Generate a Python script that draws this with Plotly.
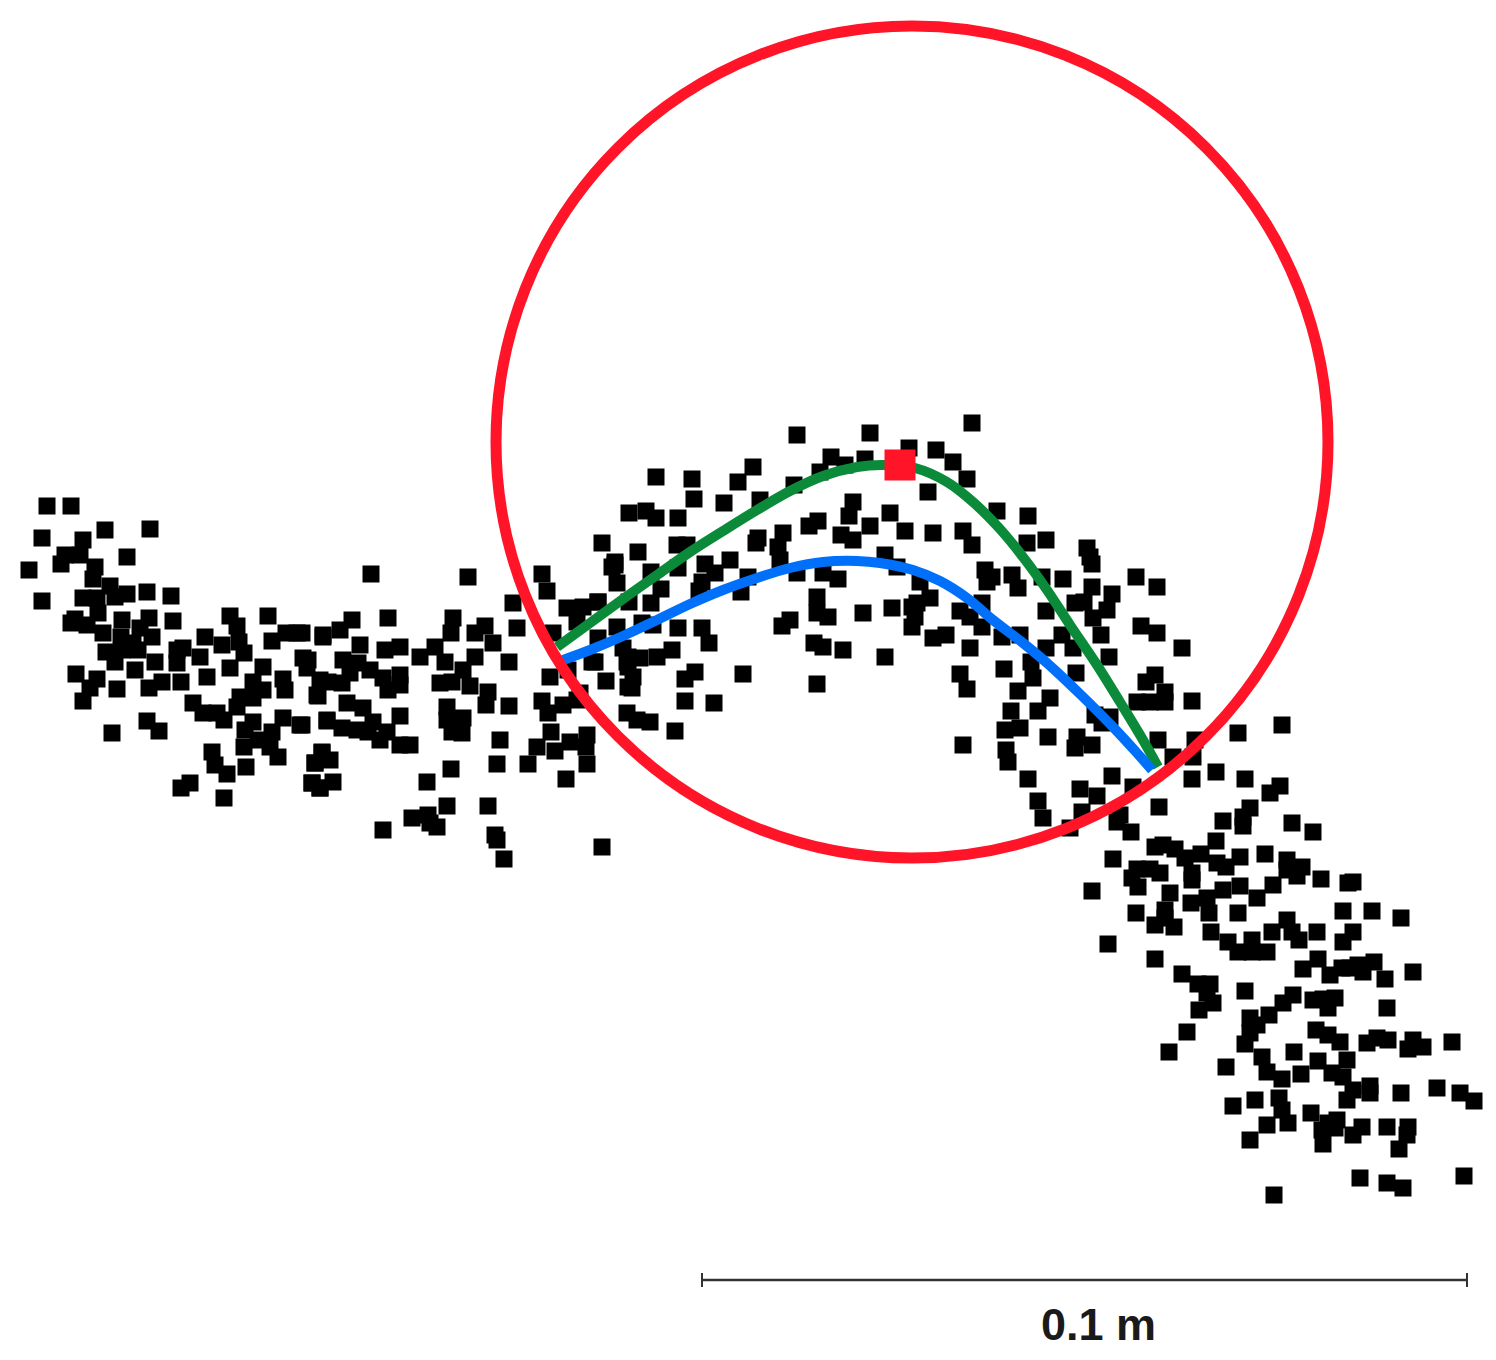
import plotly.graph_objects as go

# scatter points in image pixels (y grows downwards)
left_x = [47,71,42,105,150,83,65,80,61,29,127,95,93,110,42,83,97,115,127,147,171,98,75,71,87,103,122,149,173,140,152,121,133,106,122,138,115,135,155,76,97,90,83,117,149,162,181,177,183,177,200,207,205,222,230,237,239,244,230,263,268,272,286,297,323,303,307,320,317,283,285,253,263,240,253,237,193,203,217,224,283,300,327,147,159,112,253,245,244,258,272,270,278,212,215,227,246,190,181,224,322,315,312,320]
left_y = [506,506,538,530,529,540,555,555,564,570,557,567,579,586,601,598,598,597,594,592,596,613,619,623,625,633,620,618,621,628,637,637,643,652,650,650,662,670,662,674,679,688,701,689,688,682,682,650,648,663,657,677,637,645,616,626,642,653,668,667,616,641,633,633,637,658,668,680,695,679,690,682,690,697,698,707,703,713,713,720,718,725,721,721,731,733,722,730,747,740,732,747,757,752,765,774,767,783,788,798,753,763,783,788]

middle_x = [371,468,388,352,340,323,302,453,451,485,475,493,517,513,542,547,615,617,360,343,358,308,385,400,420,435,445,475,463,509,383,400,388,400,370,350,328,318,342,440,452,470,488,486,509,347,363,400,327,342,357,373,368,387,380,400,410,447,463,447,452,462,302,500,497,451,427,322,315,330,312,333,320,447,488,412,428,437,430,383,495,497,504,602,542,550,568,563,577,548,551,537,528,555,570,587,586,587,566,553,567,583,598,577,617,598,592,606,628,628,628,627,580]
middle_y = [574,577,618,620,630,635,633,618,633,626,633,643,628,603,574,591,565,583,645,660,663,660,650,647,657,647,662,657,670,662,678,675,690,685,670,673,682,696,683,683,682,686,692,705,706,703,708,716,720,728,730,722,732,732,740,745,745,707,718,720,732,733,725,740,764,769,782,752,763,760,783,782,788,806,806,818,815,827,823,830,835,840,859,847,701,677,670,705,700,713,732,747,764,751,742,735,747,764,779,633,608,607,602,622,627,638,662,681,657,667,687,713,693]

arch_left_x = [797,870,909,831,845,865,820,753,738,656,692,794,694,724,760,629,646,656,678,853,849,890,905,870,818,809,841,853,783,758,756,778,780,602,638,677,687,615,612,651,678,705,730,715,702,699,748,797,838,823,885,897,920,661,598,629,651,741,817,817,828,790,782,863,892,912,912,642,653,678,702,709,623,627,640,657,672,595,633,632,685,695,743,814,823,843,885,817,685,714,637,650,675]
arch_left_y = [435,433,448,457,465,459,472,467,482,477,479,485,499,503,500,513,511,518,518,502,516,513,531,526,521,526,535,540,533,538,543,547,560,543,552,545,545,562,567,572,568,564,560,573,582,591,577,573,579,573,555,567,582,589,602,602,603,592,597,613,617,620,626,613,608,607,627,623,625,628,628,643,648,662,658,657,650,662,677,688,679,672,674,643,647,650,657,684,701,703,720,722,731]

arch_right_x = [972,936,953,967,928,933,963,972,997,1028,1027,1046,1087,1090,1092,1136,1157,985,992,987,1012,1018,1042,1063,1092,1112,1075,1084,1107,1046,1093,1141,1157,1182,1101,1062,1109,1073,1046,1020,1002,982,960,982,970,930,917,915,933,946,970,960,967,1004,1031,1033,1018,1050,1038,1011,1005,1020,1048,963,1006,1008,1077,1075,1092,1076,1146,1155,1165,1137,1150,1165,1192,1095,1110,1102,1028,1038,1043,1070,1082,1120]
arch_right_y = [423,450,462,479,492,533,531,545,511,516,543,540,548,557,564,577,587,570,577,582,575,588,577,579,587,594,603,602,610,611,618,626,633,648,635,635,657,648,648,635,637,603,611,627,617,598,603,617,638,635,648,674,689,669,662,678,691,698,711,711,730,728,737,745,750,762,737,748,745,673,682,675,692,702,702,702,701,715,717,723,779,801,818,828,812,815]

lower_x = [1282,1238,1195,1158,1173,1193,1216,1192,1245,1112,1133,1080,1097,1280,1270,1159,1250,1117,1223,1243,1243,1292,1313,1131,1216,1155,1163,1175,1185,1201,1113,1240,1265,1217,1226,1287,1302,1287,1137,1150,1160,1132,1138,1192,1192,1297,1321,1353,1348,1273,1240,1223,1092,1170,1191,1207,1257,1165,1136,1209,1238,1343,1372,1401,1155,1174,1165,1287,1272,1211,1317,1292,1299,1353,1343,1228,1252,1238,1252,1267,1108,1155,1318]
lower_y = [725,733,740,740,757,757,772,779,779,776,787,789,796,786,793,807,808,822,821,817,826,823,832,832,841,847,845,849,858,854,859,857,854,863,867,860,867,870,869,869,873,878,887,873,880,876,879,882,883,885,886,890,891,893,903,898,898,910,913,913,913,911,911,918,925,927,918,920,932,932,932,932,940,932,942,942,940,952,952,952,944,959,959]

tail_x = [1303,1330,1342,1358,1374,1385,1363,1413,1182,1198,1210,1207,1213,1199,1245,1350,1293,1283,1313,1323,1335,1328,1387,1269,1250,1257,1250,1245,1187,1169,1226,1316,1328,1340,1367,1377,1388,1413,1408,1423,1452,1294,1262,1318,1347,1267,1301,1282,1332,1343,1353,1370,1370,1401,1437,1460,1474,1347,1255,1233,1279,1282,1288,1267,1250,1311,1337,1328,1322,1335,1323,1353,1362,1387,1408,1407,1399,1360,1387,1403,1464,1274]
tail_y = [969,975,968,965,962,979,972,972,974,984,984,993,1003,1010,991,968,995,1003,1000,999,998,1008,1008,1015,1018,1025,1033,1044,1032,1052,1067,1030,1035,1042,1043,1038,1040,1040,1049,1047,1042,1052,1057,1061,1060,1072,1074,1079,1073,1077,1090,1086,1093,1093,1088,1093,1101,1100,1100,1106,1098,1110,1123,1125,1140,1113,1120,1123,1130,1128,1144,1135,1127,1127,1127,1135,1149,1178,1183,1188,1176,1195]

point_x = left_x + middle_x + arch_left_x + arch_right_x + lower_x + tail_x
point_y = left_y + middle_y + arch_left_y + arch_right_y + lower_y + tail_y

# the two curves
green_x = [557,590,623,657,690,723,757,790,823,857,883,915,947,973,1000,1023,1047,1070,1097,1120,1143,1158]
green_y = [647,623,599,575,552,531,510,491,476,467,465,468,482,502,529,557,590,625,665,702,740,767]
blue_x = [563,590,623,657,690,723,757,790,823,857,880,913,940,967,993,1023,1047,1080,1113,1137,1152]
blue_y = [660,650,636,620,604,590,578,568,562,561,563,570,581,598,620,643,663,694,727,753,770]

apex_x = [900]
apex_y = [465]

# fitted circle, bounding box
circle_x0, circle_x1 = 496, 1328
circle_y0, circle_y1 = 26, 858

# scale bar
bar_x = [702, 1467]
bar_y = [1280, 1280]
bar_tick = 7
bar_label = "0.1 m"

RED = "#FF1428"
GREEN = "#0B8A3A"
BLUE = "#0070FA"

fig = go.Figure()

fig.add_trace(go.Scatter(
    x=point_x, y=point_y, mode="markers",
    marker=dict(symbol="square", size=17, color="black", line=dict(width=0)),
))
fig.add_trace(go.Scatter(
    x=green_x, y=green_y, mode="lines",
    line=dict(color=GREEN, width=10, shape="spline", smoothing=1),
))
fig.add_trace(go.Scatter(
    x=blue_x, y=blue_y, mode="lines",
    line=dict(color=BLUE, width=10, shape="spline", smoothing=1),
))
fig.add_trace(go.Scatter(
    x=apex_x, y=apex_y, mode="markers",
    marker=dict(symbol="square", size=31, color=RED, line=dict(width=0)),
))

# scale bar with its end ticks
fig.add_trace(go.Scatter(
    x=bar_x, y=bar_y, mode="lines", line=dict(color="#333333", width=2.5),
))
for end in bar_x:
    fig.add_trace(go.Scatter(
        x=[end, end], y=[bar_y[0] - bar_tick, bar_y[0] + bar_tick],
        mode="lines", line=dict(color="#333333", width=2),
    ))

fig.add_shape(
    type="circle", xref="x", yref="y",
    x0=circle_x0, x1=circle_x1, y0=circle_y0, y1=circle_y1,
    line=dict(color=RED, width=11), layer="above",
)

fig.add_annotation(
    x=1098, y=1324, text=f"<b>{bar_label}</b>", showarrow=False,
    font=dict(family="Liberation Sans", size=45, color="#1a1a1a"),
)

fig.update_layout(
    width=1496, height=1360,
    margin=dict(l=0, r=0, t=0, b=0),
    paper_bgcolor="white", plot_bgcolor="white",
    showlegend=False,
    xaxis=dict(range=[0, 1496], visible=False, fixedrange=True),
    yaxis=dict(range=[1360, 0], visible=False, fixedrange=True),
)

fig.write_html(
    "out.html",
    config=dict(displayModeBar=False),
    post_script="document.body.style.margin='0';document.body.style.overflow='hidden';",
)
